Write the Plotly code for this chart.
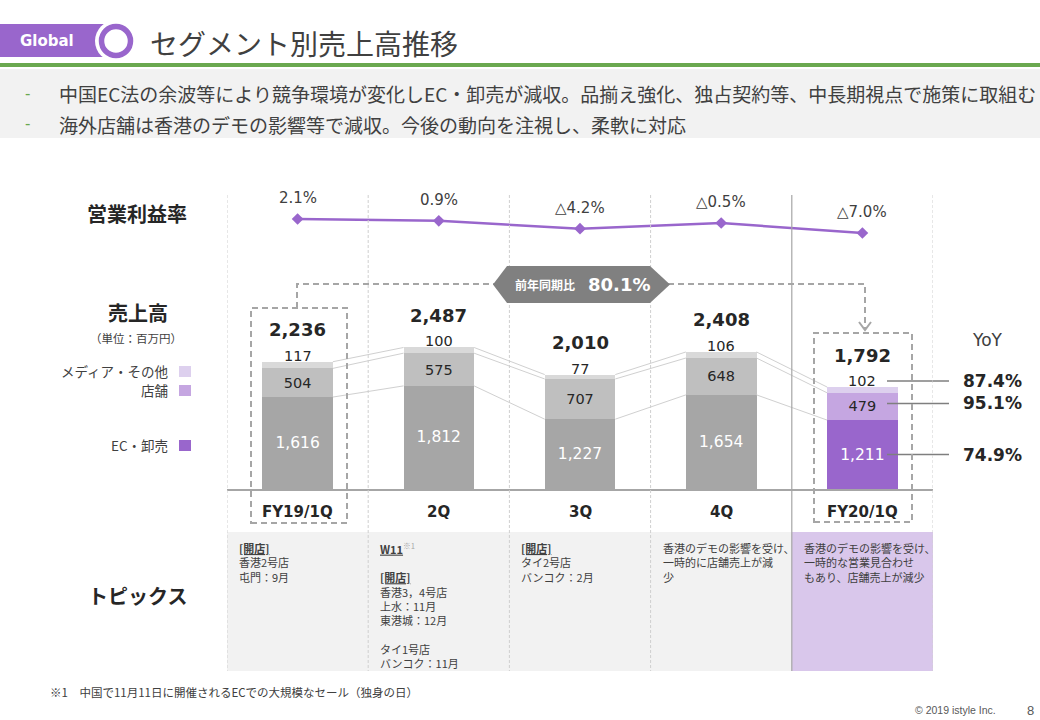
import plotly.graph_objects as go

W, H = 1040, 720


def px(x):
    return x / W


def py(y):
    return 1 - y / H


# ---------------- data ----------------
categories = ["FY19/1Q", "2Q", "3Q", "4Q", "FY20/1Q"]
ec_sales = [1616, 1812, 1227, 1654, 1211]
store_sales = [504, 575, 707, 648, 479]
media_sales = [117, 100, 77, 106, 102]
total_sales = [2236, 2487, 2010, 2408, 1792]
op_margin = [2.1, 0.9, -4.2, -0.5, -7.0]
yoy_ec = "74.9%"
yoy_store = "95.1%"
yoy_media = "87.4%"
yoy_total = "80.1%"
topics = [
    "<b><u>[開店]</u></b><br>香港2号店<br>屯門：9月",
    "<b><u>W11</u></b><span style='color:#a6a6a6'><sup>※1</sup></span><br><br><b><u>[開店]</u></b><br>香港3，4号店<br>上水：11月<br>東港城：12月<br><br>タイ1号店<br>バンコク：11月",
    "<b><u>[開店]</u></b><br>タイ2号店<br>バンコク：2月",
    "香港のデモの影響を受け、<br>一時的に店舗売上が減<br>少",
    "香港のデモの影響を受け、<br>一時的な営業見合わせ<br>もあり、店舗売上が減少",
]
bullets = [
    "中国EC法の余波等により競争環境が変化しEC・卸売が減収。品揃え強化、独占契約等、中長期視点で施策に取組む",
    "海外店舗は香港のデモの影響等で減収。今後の動向を注視し、柔軟に対応",
]

# ---------------- styles ----------------
JP = "Noto Sans CJK JP"
NUM = "DejaVu Sans"
PURPLE = "#9966cc"
GRAY_EC, GRAY_ST, GRAY_MD = "#a6a6a6", "#bfbfbf", "#d9d9d9"
PUR_EC, PUR_ST, PUR_MD = "#9966cc", "#c5a6e1", "#ddd0ee"
TXT = "#262626"

n = len(categories)
xs = list(range(n))
ec_colors = [GRAY_EC] * (n - 1) + [PUR_EC]
st_colors = [GRAY_ST] * (n - 1) + [PUR_ST]
md_colors = [GRAY_MD] * (n - 1) + [PUR_MD]

cum_ec = ec_sales
cum_st = [a + b for a, b in zip(ec_sales, store_sales)]
cum_md = [a + b + c for a, b, c in zip(ec_sales, store_sales, media_sales)]

PX_PER_UNIT = 0.0569
fig = go.Figure()

# connector lines between bars
cx, cy = [], []
for level in (cum_ec, cum_st, cum_md):
    for i in range(n - 1):
        cx += [i + 0.25, i + 0.75, None]
        cy += [level[i], level[i + 1], None]
fig.add_trace(go.Scatter(x=cx, y=cy, mode="lines", line=dict(color="#d0d0d0", width=1),
                         hoverinfo="skip"))

fig.add_trace(go.Bar(x=xs, y=ec_sales, width=0.5, marker=dict(color=ec_colors, line_width=0),
                     texttemplate="%{y:,}", textposition="inside", insidetextanchor="middle",
                     textangle=0, textfont=dict(color="white", size=15.5, family=NUM),
                     hoverinfo="skip"))
fig.add_trace(go.Bar(x=xs, y=store_sales, width=0.5, marker=dict(color=st_colors, line_width=0),
                     texttemplate="%{y:,}", textposition="inside", insidetextanchor="middle",
                     textangle=0, textfont=dict(color=TXT, size=14.5, family=NUM),
                     hoverinfo="skip"))
fig.add_trace(go.Bar(x=xs, y=media_sales, width=0.5, marker=dict(color=md_colors, line_width=0),
                     hoverinfo="skip"))

# operating margin line
fig.add_trace(go.Scatter(x=xs, y=op_margin, yaxis="y2", mode="lines+markers",
                         line=dict(color=PURPLE, width=2.5),
                         marker=dict(symbol="diamond", size=9, color=PURPLE),
                         hoverinfo="skip"))

ann = []
shapes = []


def A(x, y, text, size, color=TXT, family=JP, xanchor="center", yanchor="middle", xref="paper", yref="paper", **kw):
    ann.append(dict(x=x, y=y, text=text, xref=xref, yref=yref, showarrow=False,
                    font=dict(size=size, color=color, family=family),
                    xanchor=xanchor, yanchor=yanchor, **kw))


# bar labels
for i in xs:
    A(i, cum_md[i], f"<b>{total_sales[i]:,}</b>", 18, family=NUM, xref="x", yref="y", yshift=32)
    A(i, cum_md[i], f"{media_sales[i]:,}", 14.5, family=NUM, xref="x", yref="y", yshift=6)
    A(i, py(512), f"<b>{categories[i]}</b>", 15, family=NUM, xref="x", yref="paper")
    v = op_margin[i]
    lab = f"{v:.1f}%" if v >= 0 else f"△{abs(v):.1f}%"
    A(i, v, lab, 15, color="#404040", family=NUM, xref="x", yref="y2", yshift=21)

# YoY labels and leader lines (y from the last bar's segments)
last = n - 1
yoy_pos = [(cum_md[last], yoy_media, 6), ((cum_ec[last] + cum_st[last]) / 2, yoy_store, 3),
           (cum_ec[last] / 2, yoy_ec, 0)]
for yv, txt, sh in yoy_pos:
    A(px(992), yv, f"<b>{txt}</b>", 17, family=NUM, xref="paper", yref="y", yshift=sh)
    yy = yv + sh / PX_PER_UNIT
    shapes.append(dict(type="line", xref="paper", yref="y", x0=px(887), x1=px(949),
                       y0=yy, y1=yy, line=dict(color="#7f7f7f", width=1.5)))
A(px(987), py(340), "YoY", 17, color="#404040", family=NUM)

# topics backgrounds & text
shapes.append(dict(type="rect", xref="x", yref="paper", x0=-0.5, x1=n - 1.5, y0=py(671), y1=py(532),
                   fillcolor="#f2f2f2", line_width=0, layer="below"))
shapes.append(dict(type="rect", xref="x", yref="paper", x0=n - 1.5, x1=n - 0.5, y0=py(671), y1=py(532),
                   fillcolor="#d9c7eb", line_width=0, layer="below"))
for i, t in enumerate(topics):
    A(i - 0.5, py(538), t, 11, color="#404040", xref="x", xanchor="left", yanchor="top",
      xshift=10, align="left")

# column separators
for k in range(n + 1):
    xv = k - 0.5
    solid = (k == n - 1)
    shapes.append(dict(type="line", xref="x", yref="paper", x0=xv, x1=xv, y0=py(195), y1=py(671),
                       line=dict(color="#a6a6a6" if solid else "#cfcfcf", width=1.2 if solid else 1,
                                 dash="solid" if solid else "3px,2px")))

# dashed highlight boxes
DASH = dict(color="#a6a6a6", width=2, dash="6px,4px")
shapes.append(dict(type="rect", xref="paper", yref="paper", x0=px(251), x1=px(347), y0=py(523), y1=py(308),
                   line=DASH))
shapes.append(dict(type="rect", xref="paper", yref="paper", x0=px(814), x1=px(912), y0=py(522), y1=py(333),
                   line=DASH))
shapes.append(dict(type="path", xref="paper", yref="paper",
                   path=f"M {px(297)},{py(308)} L {px(297)},{py(284)} L {px(495)},{py(284)}",
                   line=DASH))
shapes.append(dict(type="path", xref="paper", yref="paper",
                   path=f"M {px(668)},{py(284)} L {px(865)},{py(284)} L {px(865)},{py(329)}",
                   line=DASH))
shapes.append(dict(type="path", xref="paper", yref="paper",
                   path=f"M {px(859)},{py(322)} L {px(865)},{py(330)} L {px(871)},{py(322)}",
                   line=dict(color="#a6a6a6", width=2)))
# callout
shapes.append(dict(type="path", xref="paper", yref="paper",
                   path=(f"M {px(493)},{py(284.5)} L {px(507)},{py(266)} L {px(650)},{py(266)} "
                         f"L {px(670)},{py(284.5)} L {px(650)},{py(303)} L {px(507)},{py(303)} Z"),
                   fillcolor="#808080", line_width=0))
A(px(545), py(285), "<b>前年同期比</b>", 12, color="white")
A(px(619), py(285), f"<b>{yoy_total}</b>", 18, color="white", family=NUM)

# left side labels
A(px(137), py(213), "<b>営業利益率</b>", 20)
A(px(138), py(312), "<b>売上高</b>", 20)
A(px(136), py(338), "（単位：百万円）", 11.5, color="#404040")
A(px(137), py(595), "<b>トピックス</b>", 20)
legend_items = [("メディア・その他", PUR_MD, 371), ("店舗", PUR_ST, 390), ("EC・卸売", PUR_EC, 445)]
for name, col, yy in legend_items:
    A(px(170), py(yy), name, 13.5, color="#404040", xanchor="right")
    shapes.append(dict(type="rect", xref="paper", yref="paper", x0=px(179), x1=px(191),
                       y0=py(yy + 6), y1=py(yy - 5), fillcolor=col, line_width=0))

# header
shapes.append(dict(type="rect", xref="paper", yref="paper", x0=0, x1=px(104), y0=py(57), y1=py(24),
                   fillcolor=PURPLE, line_width=0))
shapes.append(dict(type="circle", xref="paper", yref="paper", x0=px(116 - 21), x1=px(116 + 21),
                   y0=py(41 + 21), y1=py(41 - 21), fillcolor="white", line_width=0))
shapes.append(dict(type="circle", xref="paper", yref="paper", x0=px(116 - 14.5), x1=px(116 + 14.5),
                   y0=py(41 + 14.5), y1=py(41 - 14.5), fillcolor="white",
                   line=dict(color=PURPLE, width=5.5)))
shapes.append(dict(type="rect", xref="paper", yref="paper", x0=0, x1=1, y0=py(67), y1=py(63),
                   fillcolor="#6aa84f", line_width=0))
shapes.append(dict(type="rect", xref="paper", yref="paper", x0=0, x1=1, y0=py(138), y1=py(69),
                   fillcolor="#f2f2f2", line_width=0, layer="below"))
A(px(47), py(41), "<b>Global</b>", 15, color="white", family=NUM)
A(px(148), py(43), "セグメント別売上高推移", 28, color="#404040", xanchor="left")
for k, b in enumerate(bullets):
    yy = 94 + 30 * k
    A(px(27), py(yy), "-", 15, color="#6aa84f", family=NUM)
    A(px(57), py(yy), b, 19, color="#404040", xanchor="left")

# footer
A(px(48), py(692), "※1　中国で11月11日に開催されるECでの大規模なセール（独身の日）", 11.5,
  color="#404040", xanchor="left")
A(px(998), py(710), "© 2019 istyle Inc.", 10.5, color="#595959", family="Liberation Sans", xanchor="right")
A(px(1030), py(710), "8", 13, color="#595959", family="Liberation Sans")

fig.update_layout(
    width=W, height=H, margin=dict(l=0, r=0, t=0, b=0),
    paper_bgcolor="white", plot_bgcolor="rgba(0,0,0,0)",
    barmode="stack", showlegend=False, hovermode=False,
    xaxis=dict(domain=[px(227), px(933)], range=[-0.5, n - 0.5], showticklabels=False,
               showgrid=False, zeroline=False, showline=True, linecolor="#a6a6a6", linewidth=1.5,
               ticks="", fixedrange=True),
    yaxis=dict(domain=[py(489), py(180)], range=[0, 309 / PX_PER_UNIT], visible=False,
               fixedrange=True),
    yaxis2=dict(domain=[py(260), py(200)],
                range=[2.1 - 41 / 1.54, 2.1 + 19 / 1.54], visible=False, anchor="x",
                fixedrange=True),
    annotations=ann, shapes=shapes,
)

fig.write_html("out.html", config={"displayModeBar": False},
               post_script="document.body.style.margin='0';")
